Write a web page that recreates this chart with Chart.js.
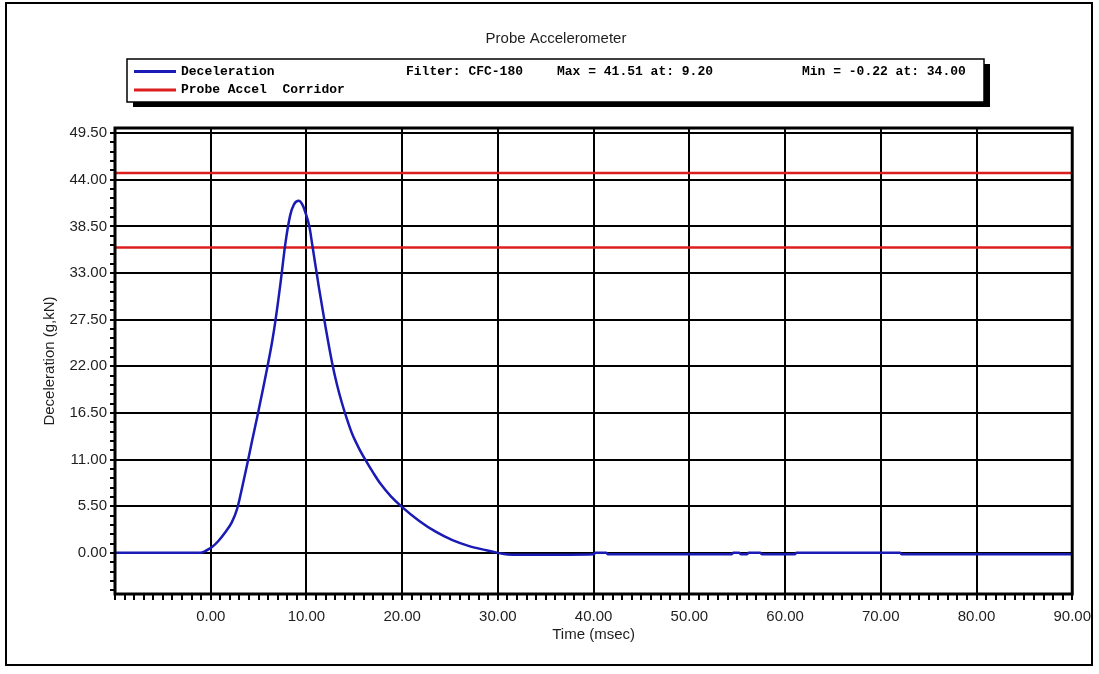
<!DOCTYPE html>
<html>
<head>
<meta charset="utf-8">
<title>Probe Accelerometer</title>
<script src="https://cdn.jsdelivr.net/npm/chart.js@4.4.1/dist/chart.umd.min.js"></script>
<style>
  html, body { margin: 0; padding: 0; background: #fff; }
</style>
</head>
<body>
<canvas id="accel" width="1099" height="674"></canvas>
<script>
// deceleration trace (time in msec, value in g)
const timeMs = [-10, -1.1, -0.5, 0.1, 0.8, 1.5, 2.2, 2.75, 3.3, 3.8, 4.3, 4.85, 5.4, 5.9, 6.4, 6.75,
  7.3, 7.8, 8.3, 8.7, 9.2, 9.6, 9.9, 10.3, 10.6, 11.3, 12.0, 12.7, 13.2, 13.7, 14.25, 14.75, 15.5,
  16.3, 17.0, 17.7, 18.8, 20, 21.75, 23.5, 25.25, 27, 28.8, 30, 30.5, 31, 34, 40, 40.2, 41.3, 41.5,
  54.4, 54.6, 55.2, 55.4, 56, 56.2, 57.4, 57.6, 61, 61.2, 72, 72.2, 90];
const decel = [0, 0, 0.25, 0.65, 1.4, 2.4, 3.6, 5.15, 7.8, 10.4, 13.1, 16.0, 19.0, 21.8, 24.8, 27.3,
  31.9, 36.5, 39.8, 41.1, 41.51, 41.0, 40.1, 38.5, 36.4, 31.3, 26.6, 22.3, 19.8, 17.7, 15.7, 14.1, 12.3,
  10.7, 9.4, 8.2, 6.7, 5.4, 3.8, 2.5, 1.5, 0.8, 0.3, 0.0, -0.1, -0.18, -0.22, -0.15, 0, 0, -0.15,
  -0.15, 0, 0, -0.15, -0.15, 0, 0, -0.15, -0.15, 0, 0, -0.15, -0.15];

// corridor limits
const corridorTime = [-10, 90];
const corridorHigh = [44.8, 44.8];
const corridorLow = [36.0, 36.0];

// axis ticks
const xMajorTicks = [0, 10, 20, 30, 40, 50, 60, 70, 80, 90];
const yMajorTicks = [0, 5.5, 11, 16.5, 22, 27.5, 33, 38.5, 44, 49.5];
const legendNotes = ['Filter: CFC-180', 'Max = 41.51 at: 9.20', 'Min = -0.22 at: 34.00'];

const xMinor = [];
for (let v = -10; v <= 90; v++) xMinor.push(v);
const yMinor = [];
for (let k = -4; k <= 45; k++) yMinor.push(+(k * 1.1).toFixed(2));

const isMajor = (list, v) => list.some(m => Math.abs(m - v) < 1e-6);
const pts = (xs, ys) => xs.map((x, i) => ({ x: x, y: ys[i] }));

const sans = '"Liberation Sans", Arial, sans-serif';
const ink = '#1e1e1e';

// white page, outer frame, plot box, title and the boxed legend
const framePlugin = {
  id: 'frame',
  beforeDraw(chart) {
    const c = chart.ctx;
    c.save();
    c.fillStyle = '#fff';
    c.fillRect(0, 0, chart.width, chart.height);
    c.restore();
  },
  afterDraw(chart) {
    const c = chart.ctx;
    const a = chart.chartArea;
    c.save();
    c.strokeStyle = '#000';
    c.lineWidth = 2;
    c.strokeRect(6, 3, 1086, 662);
    c.lineWidth = 3;
    c.strokeRect(a.left, a.top, a.right - a.left, a.bottom - a.top);

    c.fillStyle = ink;
    c.font = '15px ' + sans;
    c.textAlign = 'center';
    c.textBaseline = 'middle';
    c.fillText('Probe Accelerometer', 556, 39);

    // legend box + shadow
    c.fillStyle = '#000';
    c.fillRect(133, 64, 857, 43);
    c.fillStyle = '#fff';
    c.fillRect(127, 59, 857, 43);
    c.lineWidth = 1.5;
    c.strokeRect(127, 59, 857, 43);

    const ds = chart.data.datasets;
    c.lineWidth = 3;
    c.strokeStyle = ds[0].borderColor;
    c.beginPath(); c.moveTo(134, 71.5); c.lineTo(176, 71.5); c.stroke();
    c.strokeStyle = ds[1].borderColor;
    c.beginPath(); c.moveTo(134, 90); c.lineTo(176, 90); c.stroke();

    c.fillStyle = '#000';
    c.font = 'bold 13px "Liberation Mono", "Courier New", monospace';
    c.textAlign = 'left';
    c.fillText(ds[0].label, 181, 71.5);
    c.fillText('Probe Accel  Corridor', 181, 90);
    c.fillText(legendNotes[0], 406, 71.5);
    c.fillText(legendNotes[1], 557, 71.5);
    c.fillText(legendNotes[2], 802, 71.5);
    c.restore();
  }
};

new Chart(document.getElementById('accel'), {
  type: 'line',
  data: {
    datasets: [
      { label: 'Deceleration', data: pts(timeMs, decel), borderColor: '#1a1ab4', borderWidth: 2.5,
        pointRadius: 0, cubicInterpolationMode: 'monotone', fill: false },
      { label: 'Probe Accel Corridor', data: pts(corridorTime, corridorHigh), borderColor: '#dc1e1e',
        borderWidth: 2.5, pointRadius: 0, fill: false },
      { label: 'Probe Accel Corridor', data: pts(corridorTime, corridorLow), borderColor: '#dc1e1e',
        borderWidth: 2.5, pointRadius: 0, fill: false }
    ]
  },
  options: {
    responsive: false,
    animation: false,
    devicePixelRatio: 1,
    layout: { padding: { top: 128, right: 24, bottom: 0, left: 0 } },
    plugins: { legend: { display: false }, tooltip: { enabled: false }, title: { display: false } },
    scales: {
      x: {
        type: 'linear', min: -10, max: 90,
        afterFit(s) { s.height = 80; },
        afterBuildTicks(s) { s.ticks = xMinor.map(v => ({ value: v })); },
        border: { display: false },
        grid: {
          color: ctx => (ctx.tick && isMajor(xMajorTicks, ctx.tick.value)) ? '#000' : 'rgba(0,0,0,0)',
          lineWidth: 2, tickColor: '#000', tickWidth: 2, tickLength: 6
        },
        ticks: {
          autoSkip: false, maxRotation: 0, padding: 8, color: ink,
          font: { size: 15, family: sans },
          callback: v => isMajor(xMajorTicks, v) ? v.toFixed(2) : ''
        },
        title: { display: true, text: 'Time (msec)', color: ink, font: { size: 15, family: sans },
          padding: { top: 0, bottom: 30 } }
      },
      y: {
        type: 'linear', min: -4.85, max: 50.1,
        afterFit(s) { s.width = 115; },
        afterBuildTicks(s) { s.ticks = yMinor.map(v => ({ value: v })); },
        border: { display: false },
        grid: {
          color: ctx => (ctx.tick && isMajor(yMajorTicks, ctx.tick.value)) ? '#000' : 'rgba(0,0,0,0)',
          lineWidth: 2, tickColor: '#000', tickWidth: 2, tickLength: 5
        },
        ticks: {
          autoSkip: false, padding: 3, color: ink,
          font: { size: 15, family: sans },
          callback: v => isMajor(yMajorTicks, v) ? v.toFixed(2) : ''
        },
        title: { display: true, text: 'Deceleration (g,kN)', color: ink, font: { size: 15, family: sans },
          padding: { top: 41, bottom: 0 } }
      }
    }
  },
  plugins: [framePlugin]
});
</script>
</body>
</html>
